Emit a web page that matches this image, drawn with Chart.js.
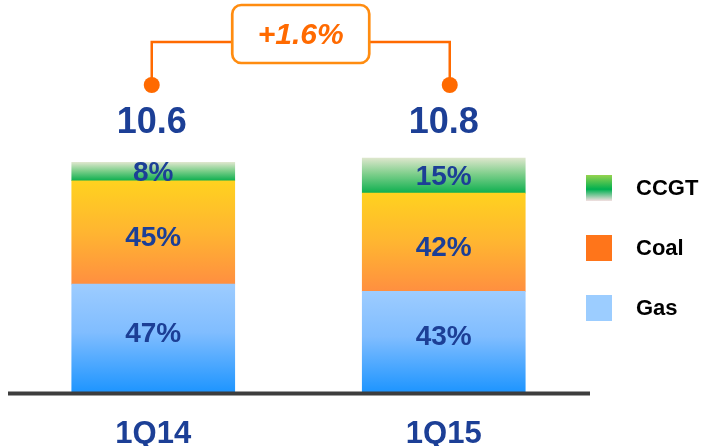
<!DOCTYPE html>
<html>
<head>
<meta charset="utf-8">
<style>
  html, body { margin: 0; padding: 0; background: #ffffff; }
  #wrap { width: 704px; height: 446px; position: relative; }
</style>
<script src="https://cdn.jsdelivr.net/npm/chart.js@4.4.1/dist/chart.umd.min.js"></script>
</head>
<body>
<div id="wrap"><canvas id="chart" width="704" height="446"></canvas></div>
<script>
// Quarterly output by source (total and share of each source, %)
const quarters = ['1Q14', '1Q15'];
const totals = [10.6, 10.8];
const gasShare = [47, 43];
const coalShare = [45, 42];
const ccgtShare = [8, 15];
const growthText = '+1.6%';
const seriesNames = ['Gas', 'Coal', 'CCGT'];

const LABEL_BLUE = '#1c3f96';
const ORANGE = '#ff6a00';
const BOX_ORANGE = '#ff8c10';

// Stacked segment size = share of the quarter total
const toValues = shares => shares.map((s, i) => +(s / 100 * totals[i]).toFixed(3));

// Vertical gradient fitted to a single stacked segment
function segmentGradient(stops) {
  return function (ctx) {
    const chart = ctx.chart;
    const fallback = stops[stops.length - 1][1];
    if (!chart.chartArea || ctx.type !== 'data') return fallback;
    const y = chart.scales.y;
    const j = ctx.dataIndex, di = ctx.datasetIndex;
    let base = 0;
    for (let k = 0; k < di; k++) base += chart.data.datasets[k].data[j];
    const top = base + chart.data.datasets[di].data[j];
    const y0 = y.getPixelForValue(top), y1 = y.getPixelForValue(base);
    if (!isFinite(y0) || !isFinite(y1)) return fallback;
    const g = chart.ctx.createLinearGradient(0, y0, 0, y1);
    stops.forEach(([p, c]) => g.addColorStop(p, c));
    return g;
  };
}

const shares = [gasShare, coalShare, ccgtShare];
const labelShift = [-4, 6, 2];

// Percent labels inside segments, totals above bars, growth bracket, baseline,
// category labels and legend
const decorations = {
  id: 'decorations',
  afterDatasetsDraw(chart) {
    const c = chart.ctx;
    const area = chart.chartArea;
    const yScale = chart.scales.y;
    const xScale = chart.scales.x;
    c.save();

    // baseline
    c.fillStyle = '#3d3d3d';
    c.fillRect(area.left, yScale.getPixelForValue(0) - 0.5, area.right - area.left + 1, 4);

    // category labels
    c.fillStyle = LABEL_BLUE;
    c.textAlign = 'center';
    c.textBaseline = 'alphabetic';
    c.font = 'bold 31px "Liberation Sans", Arial, sans-serif';
    chart.data.labels.forEach((lab, i) => {
      c.fillText(lab, xScale.getPixelForTick(i), xScale.bottom - 3.5);
    });

    // segment percentages
    c.textAlign = 'center';
    c.textBaseline = 'middle';
    c.fillStyle = LABEL_BLUE;
    c.font = 'bold 28px "Liberation Sans", Arial, sans-serif';
    chart.data.datasets.forEach((ds, di) => {
      const meta = chart.getDatasetMeta(di);
      meta.data.forEach((el, j) => {
        const mid = (el.y + el.base) / 2 + labelShift[di];
        c.fillText(shares[di][j] + '%', el.x, mid);
      });
    });

    // totals above bars
    const topMeta = chart.getDatasetMeta(chart.data.datasets.length - 1);
    const centers = topMeta.data.map(el => el.x);
    const highest = Math.min(...totals.map(t => yScale.getPixelForValue(t)));
    const totalY = highest - 35;
    c.font = 'bold 36px "Liberation Sans", Arial, sans-serif';
    totals.forEach((t, i) => c.fillText(t.toFixed(1), centers[i] - (i === 0 ? 1.5 : 0), totalY));

    // growth bracket
    const xL = centers[0] - 1.5, xR = centers[1] + 6;
    const dotY = totalY - 38, lineY = dotY - 43;
    const boxW = 137, boxH = 58, boxCx = (xL + xR) / 2, boxCy = lineY - 8;
    c.strokeStyle = ORANGE;
    c.lineWidth = 2.5;
    c.beginPath();
    c.moveTo(xL, dotY); c.lineTo(xL, lineY); c.lineTo(boxCx - boxW / 2, lineY);
    c.moveTo(boxCx + boxW / 2, lineY); c.lineTo(xR, lineY); c.lineTo(xR, dotY);
    c.stroke();
    c.fillStyle = ORANGE;
    [xL, xR].forEach(x => { c.beginPath(); c.arc(x, dotY, 8, 0, Math.PI * 2); c.fill(); });

    c.strokeStyle = BOX_ORANGE;
    c.lineWidth = 2.7;
    c.fillStyle = '#ffffff';
    c.beginPath();
    c.roundRect(boxCx - boxW / 2, boxCy - boxH / 2, boxW, boxH, 9);
    c.fill();
    c.stroke();
    c.fillStyle = ORANGE;
    c.font = 'italic bold 30px "Liberation Sans", Arial, sans-serif';
    c.fillText(growthText, boxCx, boxCy + 2);

    // legend (top to bottom: CCGT, Coal, Gas)
    const lx = area.right - 3, size = 26;
    const items = [
      { name: seriesNames[2], y: 175 },
      { name: seriesNames[1], y: 235 },
      { name: seriesNames[0], y: 295 }
    ];
    items.forEach((it, k) => {
      if (k === 0) {
        const g = c.createLinearGradient(0, it.y, 0, it.y + size);
        g.addColorStop(0, '#95d34f');
        g.addColorStop(0.55, '#00b050');
        g.addColorStop(1, '#f4dfe2');
        c.fillStyle = g;
      } else if (k === 1) {
        c.fillStyle = '#ff751a';
      } else {
        c.fillStyle = '#9ccdff';
      }
      c.fillRect(lx, it.y, size, size);
      c.fillStyle = '#000000';
      c.textAlign = 'left';
      c.font = 'bold 22px "Liberation Sans", Arial, sans-serif';
      c.fillText(it.name, lx + 50, it.y + size / 2 + 1);
    });

    c.restore();
  }
};

new Chart(document.getElementById('chart'), {
  type: 'bar',
  data: {
    labels: quarters,
    datasets: [
      {
        label: seriesNames[0],
        data: toValues(gasShare),
        backgroundColor: segmentGradient([[0, '#9dccff'], [0.45, '#80bdff'], [1, '#1e95ff']])
      },
      {
        label: seriesNames[1],
        data: toValues(coalShare),
        backgroundColor: segmentGradient([[0, '#ffd21f'], [0.5, '#ffb531'], [1, '#ff8f40']])
      },
      {
        label: seriesNames[2],
        data: toValues(ccgtShare),
        backgroundColor: segmentGradient([[0, '#dde6cc'], [0.45, '#7fcf8c'], [1, '#0daf4f']])
      }
    ]
  },
  options: {
    responsive: false,
    animation: false,
    layout: { padding: { left: 8, right: 115, top: 2, bottom: 0 } },
    datasets: { bar: { barThickness: 163, borderWidth: 0 } },
    plugins: { legend: { display: false }, tooltip: { enabled: false } },
    scales: {
      x: {
        stacked: true,
        grid: { display: false, drawTicks: false },
        border: { display: false },
        ticks: { display: false },
        afterFit(scale) { scale.height = 54; }
      },
      y: {
        stacked: true,
        display: false,
        min: 0,
        max: 18
      }
    }
  },
  plugins: [decorations]
});
</script>
</body>
</html>
